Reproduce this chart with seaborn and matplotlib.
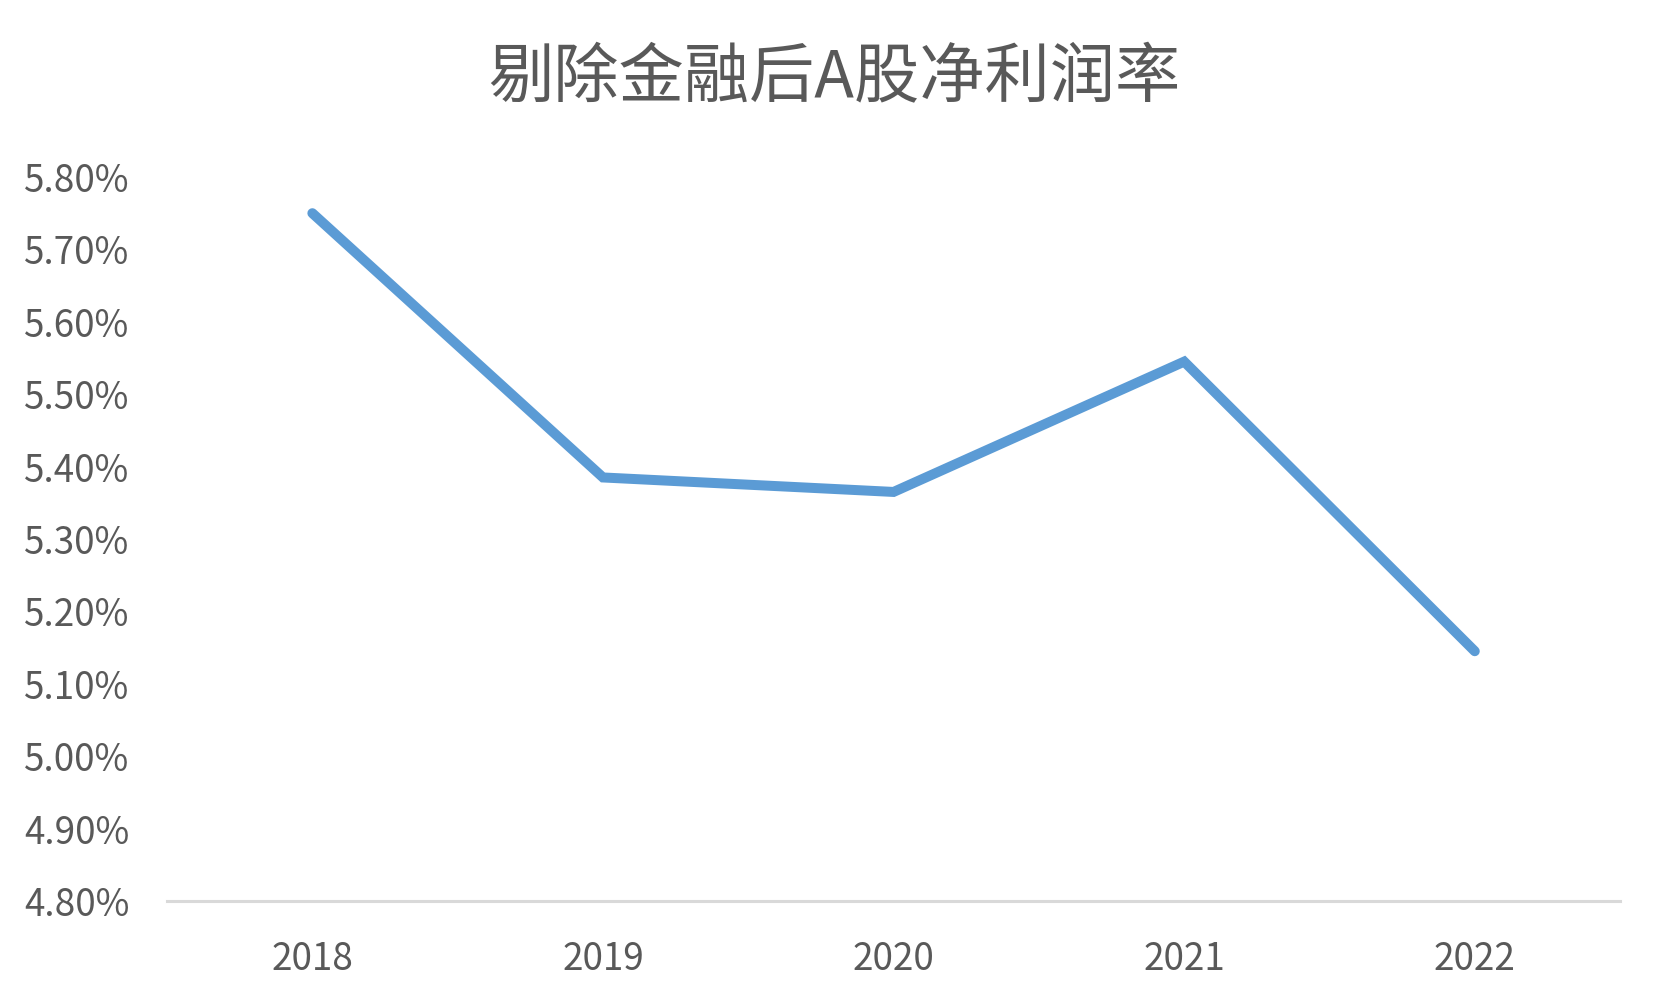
import matplotlib
matplotlib.use("Agg")
import matplotlib.pyplot as plt
import seaborn as sns
import pandas as pd
from matplotlib.ticker import FuncFormatter, MultipleLocator

# 数据
anos = ["2018", "2019", "2020", "2021", "2022"]
margem = [5.75, 5.385, 5.365, 5.545, 5.145]  # 净利润率，单位 %
titulo = "剔除金融后A股净利润率"

df = pd.DataFrame({"ano": anos, "margem": margem})

sns.set_theme(style="white")
plt.rcParams["font.family"] = ["Noto Sans CJK SC", "DejaVu Sans"]

cor_texto = "#595959"
cor_linha = "#5B9BD5"
cor_eixo = "#D9D9D9"

fig = plt.figure(figsize=(16.64, 10), dpi=100)
ax = fig.add_axes([0.1004, 0.099, 0.8732, 0.724])

sns.lineplot(data=df, x="ano", y="margem", color=cor_linha, linewidth=7.2,
             solid_capstyle="round", solid_joinstyle="miter", ax=ax)

ax.set_xlim(-0.5, len(anos) - 0.5)
ax.set_ylim(4.8, 5.8)
ax.yaxis.set_major_locator(MultipleLocator(0.1))
ax.yaxis.set_major_formatter(FuncFormatter(lambda v, p: f"{v:.2f}%"))

for lado in ["top", "right", "left"]:
    ax.spines[lado].set_visible(False)
ax.spines["bottom"].set_color(cor_eixo)
ax.spines["bottom"].set_linewidth(2.2)

ax.tick_params(axis="y", length=0, pad=27, labelsize=26.5, labelcolor=cor_texto)
ax.tick_params(axis="x", length=0, pad=28, labelsize=26.5, labelcolor=cor_texto)
ax.set_xlabel("")
ax.set_ylabel("")
ax.grid(False)

fig.text(834 / 1664, 1 - 79 / 1000, titulo, ha="center", va="center",
         fontsize=47, color=cor_texto)

fig.savefig("out.png", dpi=100)
